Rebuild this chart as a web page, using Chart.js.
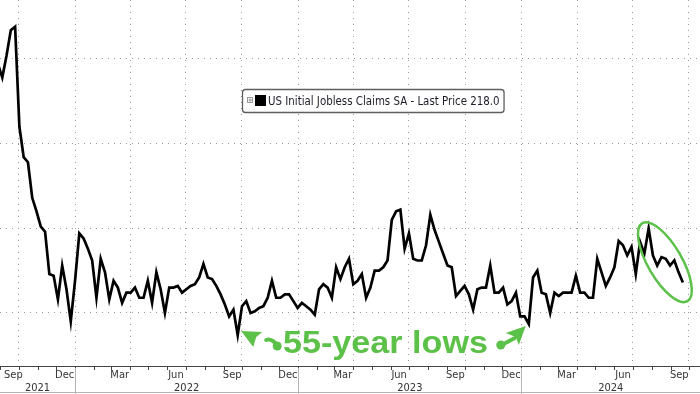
<!DOCTYPE html>
<html>
<head>
<meta charset="utf-8">
<script src="https://cdn.jsdelivr.net/npm/chart.js@4.4.0/dist/chart.umd.min.js"></script>
<style>
  html, body { margin: 0; padding: 0; background: #fff; }
  #wrap { width: 700px; height: 394px; position: relative; }
</style>
</head>
<body>
<div id="wrap"><canvas id="claimsChart"></canvas></div>
<script>
// weekly initial claims (thousands, SA), first week ending 2021-08-28
const firstWeek = Date.UTC(2021, 7, 28);
const claims = [
  347, 339, 352, 367, 369, 310, 292, 289, 268, 260,
  251, 248, 223, 222, 208, 228, 214, 195, 219, 247,
  244, 238, 231, 209, 232, 224, 208, 219, 215, 206,
  212, 212, 215, 209, 209, 219, 206, 224, 214, 200,
  215, 215, 216, 212, 214, 216, 217, 221, 229, 221,
  220, 216, 211, 205, 198, 202, 187, 204, 207, 200,
  201, 203, 204, 209, 219, 209, 209, 211, 211, 207,
  203, 206, 204, 202, 199, 214, 217, 215, 209, 227,
  220, 227, 232, 217, 219, 223, 209, 215, 225, 225,
  227, 231, 255, 260, 261, 238, 247, 232, 231, 231,
  240, 258, 249, 242, 235, 228, 227, 210, 213, 216,
  211, 202, 214, 215, 215, 228, 212, 212, 215, 205,
  207, 212, 198, 198, 193.5, 221, 225, 212, 211, 200,
  212, 210, 212, 212, 212, 222, 212, 212, 209, 209,
  232, 224, 216, 221, 227, 242.5, 240, 234, 239, 223,
  242, 235, 250, 234, 228, 233, 232, 228, 231, 224,
  218
];
const seriesName = 'US Initial Jobless Claims SA';
const yGridValues = [200, 250, 300, 350];
const monthNames = ['Jan','Feb','Mar','Apr','May','Jun','Jul','Aug','Sep','Oct','Nov','Dec'];
const labelledMonths = [2, 5, 8, 11];          // Mar, Jun, Sep, Dec
const years = [2021, 2022, 2023, 2024];
const lowWeeks = [56, 124];                    // the two "55-year lows"
const noteText = '55-year lows';

const GREEN = '#5cc148';
const WEEK_MS = 7 * 86400000;
const xMin = 0.47, xMax = 164.0;

function weekOf(y, m, d) {
  return (Date.UTC(y, m, d) - firstWeek) / WEEK_MS;
}

// quarter boundaries for the vertical grid
const quarterWeeks = [];
for (let y = 2021; y <= 2024; y++) {
  for (const m of [0, 3, 6, 9]) {
    const w = weekOf(y, m, 1);
    if (w > xMin && w < xMax) quarterWeeks.push(w);
  }
}

const decorPlugin = {
  id: 'bbgDecor',
  afterDraw(chart) {
    const ctx = chart.ctx;
    const xs = chart.scales.x, ys = chart.scales.y;
    const area = chart.chartArea;
    const W = chart.width, H = chart.height;
    const px = v => xs.getPixelForValue(v);
    const py = v => ys.getPixelForValue(v);
    ctx.save();

    // axis line
    ctx.strokeStyle = '#444';
    ctx.lineWidth = 1;
    ctx.beginPath();
    ctx.moveTo(0, area.bottom + 0.5);
    ctx.lineTo(W, area.bottom + 0.5);
    ctx.stroke();

    // month ticks + labels
    ctx.font = '11px "DejaVu Sans Condensed", "Liberation Sans", sans-serif';
    ctx.fillStyle = '#333';
    ctx.textAlign = 'center';
    ctx.textBaseline = 'middle';
    for (let y = 2021; y <= 2024; y++) {
      for (let m = 0; m < 12; m++) {
        const w = weekOf(y, m, 1);
        if (w > xMin && w < xMax) {
          const x = Math.round(px(w)) + 0.5;
          ctx.beginPath();
          ctx.moveTo(x, area.bottom);
          ctx.lineTo(x, area.bottom + 4);
          ctx.stroke();
        }
        if (labelledMonths.includes(m)) {
          const mid = weekOf(y, m, 15);
          if (mid > xMin - 2 && mid < xMax) {
            let lx = px(mid);
            const tw = ctx.measureText(monthNames[m]).width;
            lx = Math.max(lx, tw / 2 + 4);
            ctx.fillText(monthNames[m], lx, area.bottom + 9);
          }
        }
      }
    }

    // year row
    ctx.strokeStyle = '#b5b5b5';
    ctx.beginPath();
    ctx.moveTo(0, H - 1.5);
    ctx.lineTo(W, H - 1.5);
    ctx.stroke();
    years.forEach(y => {
      const a = Math.max(0, px(weekOf(y, 0, 1)));
      const b = Math.min(W, px(weekOf(y + 1, 0, 1)));
      if (y > years[0]) {
        const x = Math.round(a) + 0.5;
        ctx.beginPath();
        ctx.moveTo(x, area.bottom + 2);
        ctx.lineTo(x, H);
        ctx.stroke();
      }
      ctx.fillText(String(y), (a + b) / 2, area.bottom + 22);
    });

    // legend box
    const label = seriesName + ' - Last Price ' + claims[claims.length - 1].toFixed(1);
    ctx.font = '11.4px "DejaVu Sans Condensed", "Liberation Sans", sans-serif';
    const tw = ctx.measureText(label).width;
    const bx = 242.5, by = 89.5, bh = 23, bw = 30 + tw;
    ctx.fillStyle = '#fff';
    ctx.strokeStyle = '#5e5e5e';
    ctx.lineWidth = 1.3;
    ctx.beginPath();
    ctx.roundRect(bx, by, bw, bh, 3);
    ctx.fill();
    ctx.stroke();
    ctx.lineWidth = 1;
    ctx.strokeStyle = '#999';
    ctx.strokeRect(247.5, 97.5, 5, 5);
    ctx.beginPath();
    ctx.moveTo(248.5, 100); ctx.lineTo(252, 100);
    ctx.moveTo(250, 98.5); ctx.lineTo(250, 102);
    ctx.stroke();
    ctx.fillStyle = '#000';
    ctx.fillRect(255, 95, 11, 11);
    ctx.fillStyle = '#1e1e2a';
    ctx.textAlign = 'left';
    ctx.textBaseline = 'alphabetic';
    ctx.fillText(label, 268, 104.5);

    // annotation: arrows to the two lows
    ctx.fillStyle = GREEN;
    ctx.strokeStyle = GREEN;
    ctx.lineCap = 'round';
    ctx.lineWidth = 4;
    const t1x = px(lowWeeks[0]) + 3.5, t1y = py(claims[lowWeeks[0]]) - 4;
    ctx.beginPath();
    ctx.moveTo(t1x, t1y);
    ctx.lineTo(t1x + 21, t1y + 1);
    ctx.lineTo(t1x + 15, t1y + 6);
    ctx.lineTo(t1x + 12, t1y + 16);
    ctx.closePath();
    ctx.fill();
    ctx.beginPath();
    ctx.moveTo(t1x + 25, t1y + 9);
    ctx.quadraticCurveTo(t1x + 30, t1y + 7, t1x + 36, t1y + 14);
    ctx.stroke();
    ctx.beginPath();
    ctx.arc(t1x + 36, t1y + 15, 4.5, 0, Math.PI * 2);
    ctx.fill();

    const t2x = px(lowWeeks[1]) - 3, t2y = py(claims[lowWeeks[1]]) + 2;
    ctx.beginPath();
    ctx.moveTo(t2x, t2y);
    ctx.lineTo(t2x - 7, t2y + 19);
    ctx.lineTo(t2x - 10, t2y + 11);
    ctx.lineTo(t2x - 20, t2y + 7);
    ctx.closePath();
    ctx.fill();
    ctx.beginPath();
    ctx.moveTo(t2x - 11, t2y + 12);
    ctx.lineTo(t2x - 24, t2y + 19);
    ctx.stroke();
    ctx.beginPath();
    ctx.arc(t2x - 25, t2y + 19, 4.5, 0, Math.PI * 2);
    ctx.fill();

    // annotation text
    ctx.font = 'bold 31px "Liberation Sans", Arial, sans-serif';
    const nw = ctx.measureText(noteText).width;
    ctx.save();
    ctx.translate(283, 353);
    ctx.scale(205 / nw, 1);
    ctx.fillText(noteText, 0, 0);
    ctx.restore();

    // ellipse round the latest weeks
    ctx.lineWidth = 2.5;
    ctx.beginPath();
    ctx.ellipse(px(155.8), py(230), 45, 17, 60 * Math.PI / 180, 0, Math.PI * 2);
    ctx.stroke();

    ctx.restore();
  }
};

new Chart(document.getElementById('claimsChart'), {
  type: 'line',
  data: {
    datasets: [{
      label: seriesName,
      data: claims.map((v, i) => ({ x: i, y: v })),
      borderColor: '#000',
      borderWidth: 2.7,
      pointRadius: 0,
      tension: 0,
      fill: false
    }]
  },
  options: {
    responsive: true,
    maintainAspectRatio: false,
    animation: false,
    layout: { padding: { left: 0, right: 0, top: 0, bottom: 28 } },
    plugins: { legend: { display: false }, tooltip: { enabled: false } },
    scales: {
      x: {
        type: 'linear',
        min: xMin,
        max: xMax,
        afterBuildTicks: s => { s.ticks = quarterWeeks.map(v => ({ value: v })); },
        afterFit: s => { s.height = 0; },
        ticks: { display: false },
        grid: { color: '#9a9a9a', drawTicks: false, lineWidth: 1 },
        border: { display: false, dash: [1, 5] }
      },
      y: {
        min: 168.7,
        max: 384.8,
        afterBuildTicks: s => { s.ticks = yGridValues.map(v => ({ value: v })); },
        afterFit: s => { s.width = 0; },
        ticks: { display: false },
        grid: { color: '#9a9a9a', drawTicks: false, lineWidth: 1 },
        border: { display: false, dash: [1, 5] }
      }
    }
  },
  plugins: [decorPlugin]
});
</script>
</body>
</html>
